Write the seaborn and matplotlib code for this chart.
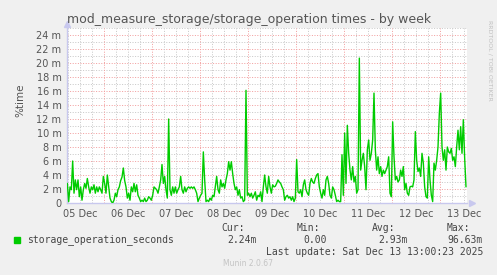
import numpy as np
import pandas as pd
import matplotlib
matplotlib.use("Agg")
import matplotlib.pyplot as plt
import matplotlib.dates as mdates
import seaborn as sns

# ---- data (values in milli-units, 40-minute samples) ----
start_time = "2025-12-05 05:30"
sample_step = "40min"
seg1 = [2.8, 0.2, 2.3, 1.9, 6.0, 1.4, 3.3, 1.9, 3.3, 0.9, 2.3, 0.4, 1.9, 2.8, 2.1, 3.5, 2.3,
        1.4, 2.3, 1.9, 2.6, 1.4, 2.3, 1.6, 2.3, 1.9, 1.4, 3.8, 2.8, 1.4, 4.0, 2.3, 0.7, 0.2,
        0.0, 0.4, 1.4, 0.9, 1.9, 2.3, 3.2, 3.7, 5.0, 3.2, 2.3, 0.7, 1.4, 0.4, 2.3, 1.6, 2.8]
seg2 = [1.6, 2.6, 1.1, 0.7, 0.2, 0.4, 0.2, 0.7, 0.2, 0.4, 0.9, 0.7, 0.4, 1.1, 2.3, 2.1, 1.9,
        1.4, 2.3, 3.3, 5.5, 2.8, 3.8, 1.9, 0.7, 12.0, 1.9, 1.1, 2.3, 1.4, 2.3, 1.4, 1.9, 2.3,
        3.8, 1.9, 1.4, 2.3, 1.6, 2.1, 2.3, 2.1, 2.3, 2.1, 2.3, 1.9, 1.4, 0.2, 0.7, 1.1, 1.4]
seg3 = [7.3, 3.3, 0.2, 0.4, 0.2, 0.7, 0.4, 1.1, 0.9, 2.3, 3.8, 1.9, 1.4, 3.3, 2.3, 2.8, 2.1,
        3.3, 4.2, 5.9, 4.7, 5.9, 4.2, 2.8, 1.9, 2.3, 1.1, 1.9, 0.7, 0.9, 0.2, 0.4, 16.1, 1.1,
        1.4, 0.9, 1.4, 0.7, 1.1, 1.6, 0.4, 1.1, 0.9, 1.6, 0.2, 2.3, 4.0, 2.3, 1.4, 3.8, 2.3]
seg4 = [1.4, 2.6, 2.3, 2.4, 2.8, 3.3, 3.0, 2.8, 2.3, 1.9, 0.4, 0.9, 1.1, 0.7, 0.9, 0.4, 0.9,
        0.2, 0.7, 6.2, 1.6, 1.4, 1.9, 0.9, 2.6, 3.3, 1.9, 1.4, 1.1, 2.8, 3.5, 3.0, 2.8, 3.5,
        4.0, 4.2, 2.3, 1.4, 0.7, 1.9, 1.1, 3.3, 3.8, 2.8, 1.1, 0.7, 2.3, 1.9, 1.1, 0.2, 0.4]
seg5 = [0.2, 0.2, 6.9, 1.1, 10.0, 2.8, 11.1, 7.1, 4.7, 3.3, 5.2, 3.0, 3.8, 1.4, 1.9, 20.7, 4.7,
        6.1, 7.1, 5.2, 1.9, 7.6, 9.0, 6.1, 7.1, 9.0, 15.7, 7.6, 4.7, 6.6, 4.2, 5.2, 3.8, 4.7,
        4.2, 4.7, 5.2, 6.6, 1.4, 0.9, 11.6, 6.6, 3.3, 3.8, 3.0, 3.3, 4.7, 3.8, 5.2, 1.9, 2.8]
seg6 = [1.4, 1.1, 2.3, 2.4, 2.3, 3.3, 10.2, 6.1, 4.5, 5.0, 3.8, 7.1, 5.7, 2.3, 0.9, 0.7, 6.6,
        3.3, 1.1, 0.2, 5.7, 4.7, 6.1, 8.0, 12.8, 15.7, 8.0, 6.1, 7.6, 4.7, 8.0, 7.3, 7.1, 7.8,
        6.1, 6.6, 5.2, 8.0, 10.4, 7.6, 10.9, 7.1, 11.9, 6.4, 2.3]
values = seg1 + seg2 + seg3 + seg4 + seg5 + seg6

day_labels = ["05 Dec", "06 Dec", "07 Dec", "08 Dec", "09 Dec", "10 Dec", "11 Dec", "12 Dec", "13 Dec"]
y_ticks = [0, 2, 4, 6, 8, 10, 12, 14, 16, 18, 20, 22, 24]
series_name = "storage_operation_seconds"
stat_cur, stat_min, stat_avg, stat_max = "2.24m", "0.00", "2.93m", "96.63m"

times = pd.date_range(start=start_time, periods=len(values), freq=sample_step)
df = pd.DataFrame({"time": times, "value": values})

# ---- figure ----
sns.set_theme(style="white")
plt.rcParams["font.family"] = ["DejaVu Sans"]
W, H = 497, 275
fig = plt.figure(figsize=(W / 100, H / 100), dpi=100, facecolor="#F0F0F0")
ax = fig.add_axes([67 / W, 72 / H, 400 / W, 175 / H])
ax.set_facecolor("white")

x0 = pd.Timestamp("2025-12-05 05:20")
x1 = pd.Timestamp("2025-12-13 13:20")
ax.set_xlim(x0, x1)
ax.set_ylim(0, 25)

minor_c = "#C9C9C9"
major_c = "#F2A0A0"
dot = (0, (1, 1.6))
# horizontal grid
for v in range(1, 26):
    ax.axhline(v, color=(major_c if v % 2 == 0 else minor_c), lw=0.72, ls=dot, zorder=0)
# vertical grid
t = pd.Timestamp("2025-12-05 06:00")
while t < x1:
    is_mid = t.hour == 0
    ax.axvline(t, color=(major_c if is_mid else minor_c), lw=0.72, ls=dot, zorder=0)
    t += pd.Timedelta(hours=6)

sns.lineplot(data=df, x="time", y="value", ax=ax, color="#00CC00", lw=1.0, zorder=3)

ax.set_xlabel("")
ax.set_ylabel("")
noon_ticks = [pd.Timestamp("2025-12-05 12:00") + pd.Timedelta(days=i) for i in range(len(day_labels))]
ax.set_xticks(noon_ticks)
ax.set_xticklabels(day_labels)
ax.set_yticks(y_ticks)
ax.set_yticklabels(["0" if v == 0 else f"{v} m" for v in y_ticks])
ax.tick_params(axis="both", length=0, labelsize=7, labelcolor="#555555", pad=4)

for s in ["top", "right"]:
    ax.spines[s].set_visible(False)
for s in ["left", "bottom"]:
    ax.spines[s].set_color("#C8C8EE")
    ax.spines[s].set_linewidth(1.0)
ax.plot([1.012], [0], marker=">", color="#C8C8EE", ms=5, transform=ax.transAxes, clip_on=False)
ax.plot([0], [1.025], marker="^", color="#C8C8EE", ms=5, transform=ax.transAxes, clip_on=False)

fig.text(249 / W, 1 - 20 / H, "mod_measure_storage/storage_operation times - by week",
         ha="center", va="center", fontsize=9, color="#555555")
fig.text(20 / W, 1 - 100 / H, "%time", rotation=90, ha="center", va="center",
         fontsize=7.5, color="#555555")
fig.text(490 / W, 1 - 60 / H, "RRDTOOL / TOBI OETIKER", rotation=270, ha="center", va="center",
         fontsize=4.5, color="#C0C0C0")

mono = "DejaVu Sans Mono"
fc = "#444444"
fig.patches.append(plt.Rectangle((14 / W, 1 - 243 / H), 6 / W, 6 / H, transform=fig.transFigure,
                                 color="#00CC00", figure=fig))
fig.text(27 / W, 1 - 240 / H, series_name, family=mono, fontsize=7, color=fc, va="center")
for lab, xr in [("Cur:", 245), ("Min:", 320), ("Avg:", 395), ("Max:", 470)]:
    fig.text(xr / W, 1 - 228 / H, lab, family=mono, fontsize=7, color=fc, va="center", ha="right")
for val, xr in [(stat_cur, 257), (stat_min, 327), (stat_avg, 408), (stat_max, 483)]:
    fig.text(xr / W, 1 - 240 / H, val, family=mono, fontsize=7, color=fc, va="center", ha="right")
fig.text(483 / W, 1 - 252 / H, "Last update: Sat Dec 13 13:00:23 2025", family=mono, fontsize=7,
         color=fc, va="center", ha="right")
fig.text(248 / W, 1 - 264 / H, "Munin 2.0.67", fontsize=5.5, color="#C4C4C4", va="center", ha="center")

fig.savefig("out.png", dpi=100, facecolor=fig.get_facecolor())
